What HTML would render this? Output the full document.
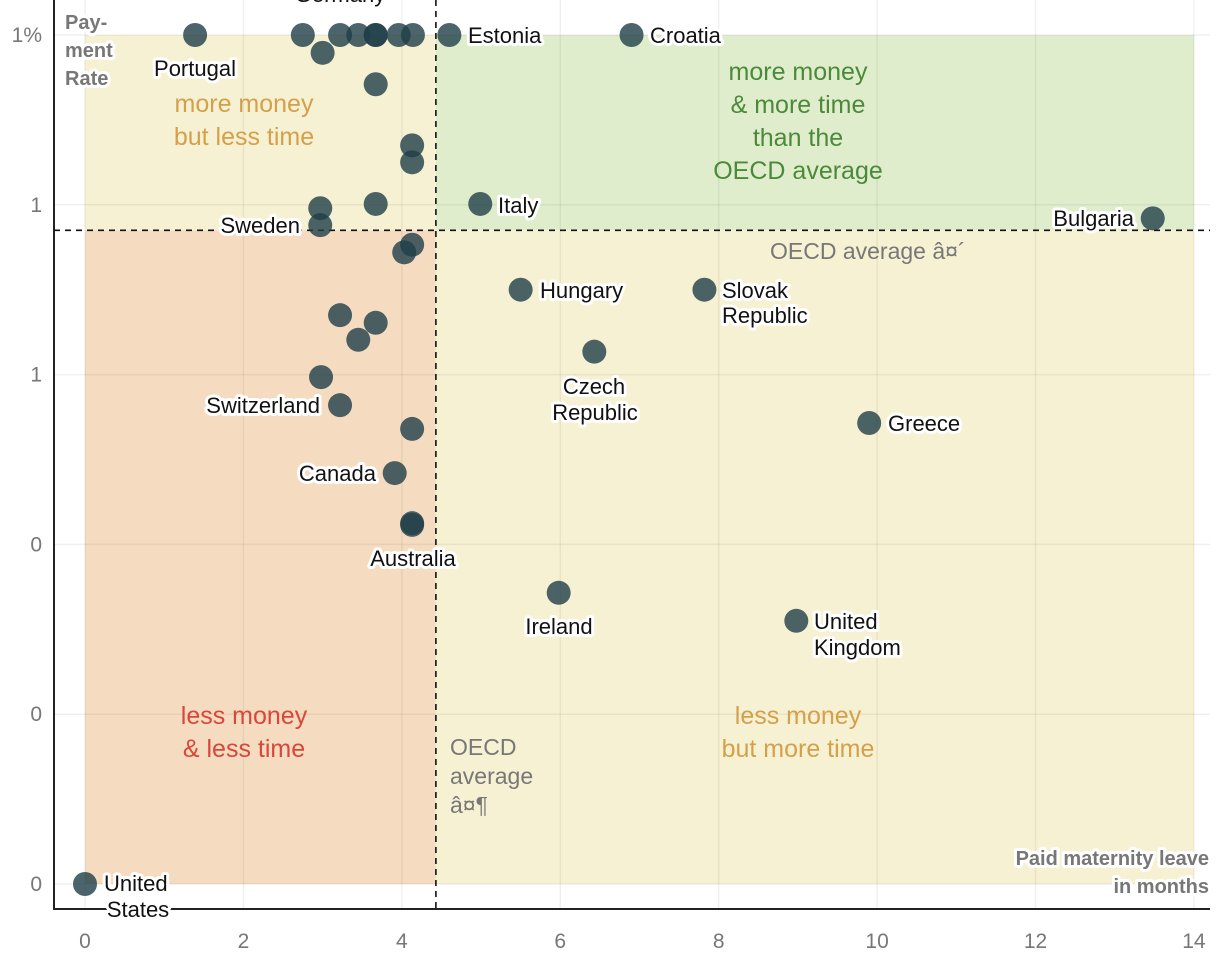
<!DOCTYPE html>
<html><head><meta charset="utf-8">
<style>
body{margin:0;background:#fff;}
svg{display:block;font-family:"Liberation Sans",sans-serif;}
.halo{paint-order:stroke;stroke:#fff;stroke-width:6px;stroke-linejoin:round;}
.lbl{font-size:22px;fill:#111;}
.tick{font-size:21px;fill:#777;}
</style></head>
<body>
<svg id="chart" width="1220" height="960"></svg>
<script>
const names=["Portugal","","","","","","","","","Estonia","Croatia","","","","","Sweden","","Italy","Bulgaria","","","Hungary","Slovak Republic","","","","Czech Republic","","Switzerland","","Greece","Canada","Australia","","Ireland","United Kingdom","United States"];
const months=[1.39,2.75,3.0,3.22,3.45,3.67,3.67,3.96,4.14,4.6,6.9,3.67,4.13,4.13,2.97,2.97,3.67,4.99,13.48,4.13,4.03,5.5,7.82,3.22,3.67,3.45,6.43,2.98,3.22,4.13,9.9,3.91,4.13,4.13,5.98,8.98,0];
const rates=[1,1,0.979,1,1,1,1,1,1,1,1,0.942,0.870,0.850,0.796,0.776,0.801,0.801,0.784,0.753,0.744,0.700,0.700,0.670,0.661,0.641,0.627,0.597,0.564,0.536,0.543,0.484,0.425,0.423,0.343,0.310,0];
const xTicks=[0,2,4,6,8,10,12,14];
const yTicks=[0,0.2,0.4,0.6,0.8,1];
const yTickLabels=["0","0","0","1","1","1%"];
const avgX=4.43, avgY=0.770;
const NS="http://www.w3.org/2000/svg";
const svg=document.getElementById('chart');
const X=v=>85+79.21*v, Y=v=>884-849*v;
function el(t,a,p){const e=document.createElementNS(NS,t);for(const k in a)e.setAttribute(k,a[k]);(p||svg).appendChild(e);return e;}
function txt(x,y,s,cls,anchor,fill,extra){const e=el('text',Object.assign({x:x,y:y,class:cls,'text-anchor':anchor||'start'},extra||{}));if(fill)e.setAttribute('fill',fill);e.textContent=s;return e;}
let q=el('rect',{x:X(0),y:Y(1),width:X(avgX)-X(0),height:Y(avgY)-Y(1),fill:'#f7f1d3'});

q=el('rect',{x:X(avgX),y:Y(1),width:X(14)-X(avgX),height:Y(avgY)-Y(1),fill:'#e0edcc'});

q=el('rect',{x:X(0),y:Y(avgY),width:X(avgX)-X(0),height:Y(0)-Y(avgY),fill:'#f5dcc0'});

q=el('rect',{x:X(avgX),y:Y(avgY),width:X(14)-X(avgX),height:Y(0)-Y(avgY),fill:'#f7f1d3'});

xTicks.forEach(v=>{const g=el('line',{x1:X(v),x2:X(v),y1:0,y2:909,stroke:'#000','stroke-opacity':0.06,'stroke-width':1.5});

const t=txt(X(v),948,String(v),'tick','middle');});
yTicks.forEach((v,i)=>{const g=el('line',{x1:54,x2:1210,y1:Y(v),y2:Y(v),stroke:'#000','stroke-opacity':0.06,'stroke-width':1.5});

const t=txt(42,Y(v)+7,yTickLabels[i],'tick','end');});
let a=el('line',{x1:54,x2:54,y1:0,y2:910,stroke:'#222','stroke-width':2});
a=el('line',{x1:53,x2:1210,y1:909,y2:909,stroke:'#222','stroke-width':2});
a=el('line',{x1:X(avgX),x2:X(avgX),y1:0,y2:909,stroke:'#111','stroke-width':1.6,'stroke-dasharray':'6,5'});
a=el('line',{x1:54,x2:1210,y1:Y(avgY),y2:Y(avgY),stroke:'#111','stroke-width':1.6,'stroke-dasharray':'6,5'});
function multi(x,y,lines,fill,name,size){const g=el('g',{});
lines.forEach((s,i)=>{const t=el('text',{x:x,y:y+i*33,'text-anchor':'middle','font-size':size||25,fill:fill},g);t.textContent=s;});}
multi(244,112,["more money","but less time"],'#d4a04a','label-more-money-less-time');
multi(798,80,["more money","& more time","than the","OECD average"],'#4a8a3a','label-more-money-more-time');
multi(244,724,["less money","& less time"],'#d9473a','label-less-money-less-time');
multi(798,724,["less money","but more time"],'#d4a04a','label-less-money-more-time');
let g=el('g',{});
["OECD","average","â¤¶"].forEach((s,i)=>{const t=el('text',{x:450,y:755+i*29,'font-size':23,fill:'#777'},g);t.textContent=s;});
a=txt(770,259,"OECD average â¤´",'','start','#777',{'font-size':23});
g=el('g',{});
["Pay-","ment","Rate"].forEach((s,i)=>{const t=el('text',{x:65,y:29+i*28,'font-size':20,'font-weight':'bold',fill:'#777',class:'halo'},g);t.textContent=s;});
g=el('g',{});
["Paid maternity leave","in months"].forEach((s,i)=>{const t=el('text',{x:1209,y:865+i*28,'font-size':20,'font-weight':'bold',fill:'#777','text-anchor':'end',class:'halo'},g);t.textContent=s;});
months.forEach((m,i)=>{const c=el('circle',{cx:X(m),cy:Y(rates[i]),r:12,fill:'#1f3f48','fill-opacity':0.8});
});
const lab=[["Portugal",195,76,'middle'],["Germany",340,2,'middle'],["Estonia",468,43,'start'],["Croatia",650,43,'start'],["Italy",498,213,'start'],["Bulgaria",1134,226,'end'],["Sweden",300,233,'end'],["Hungary",540,298,'start'],["Slovak",722,298,'start'],["Republic",722,323,'start'],["Czech",594,394,'middle'],["Republic",595,420,'middle'],["Switzerland",320,413,'end'],["Greece",888,431,'start'],["Canada",376,481,'end'],["Australia",413,566,'middle'],["Ireland",559,634,'middle'],["United",814,629,'start'],["Kingdom",814,655,'start'],["United",104,891,'start'],["States",138,917,'middle']];
lab.forEach(l=>{const t=txt(l[1],l[2],l[0],'lbl halo',l[3]);});
</script>
</body></html>
